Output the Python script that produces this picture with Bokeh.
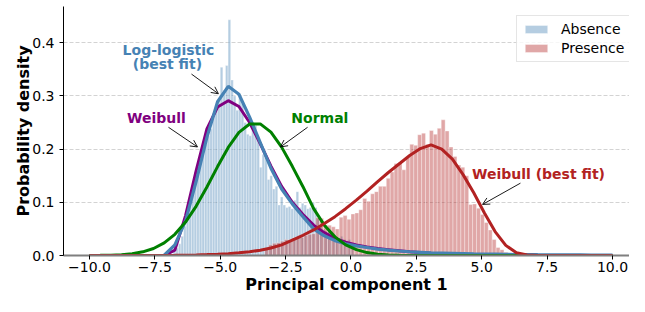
import numpy as np
from bokeh.plotting import figure
from bokeh.models import (Range1d, FixedTicker, Label, Arrow, OpenHead, Legend,
                          LegendItem, CustomJSTickFormatter, ColumnDataSource)
from bokeh.embed import file_html
from bokeh.resources import INLINE

# ---------------- data ----------------
# Absence histogram (density), bins of width 0.1 starting at -6.9
absence_start = -6.9
absence_width = 0.1
absence_density = [
    0.003, 0.008, 0.014, 0.022, 0.036, 0.055, 0.083, 0.110, 0.130, 0.157,
    0.150, 0.173, 0.190, 0.209, 0.225, 0.238, 0.260, 0.273, 0.291, 0.354,
    0.310, 0.357, 0.443, 0.330, 0.300, 0.273, 0.298, 0.286, 0.250, 0.228,
    0.225, 0.250, 0.245, 0.220, 0.166, 0.190, 0.185, 0.143, 0.150, 0.125,
    0.130, 0.095, 0.110, 0.095, 0.090, 0.092, 0.088, 0.104, 0.120, 0.090,
    0.098, 0.095, 0.088, 0.090, 0.100, 0.090, 0.070, 0.055, 0.050, 0.045,
    0.046, 0.040, 0.038, 0.035, 0.033, 0.036, 0.030, 0.028, 0.030, 0.022,
]

# Presence histogram (density), bins of width 0.15 starting at -3.3
presence_start = -3.3
presence_width = 0.15
presence_density = [
    0.012, 0.020, 0.023, 0.024, 0.027, 0.030, 0.029, 0.033, 0.035, 0.034,
    0.038, 0.040, 0.041, 0.071, 0.070, 0.058, 0.057, 0.054, 0.050, 0.072,
    0.075, 0.068, 0.078, 0.080, 0.086, 0.107, 0.102, 0.116, 0.120, 0.130,
    0.130, 0.145, 0.157, 0.173, 0.175, 0.161, 0.184, 0.209, 0.207, 0.227,
    0.230, 0.209, 0.235, 0.228, 0.239, 0.255, 0.234, 0.204, 0.186, 0.170,
    0.166, 0.150, 0.096, 0.097, 0.089, 0.077, 0.062, 0.048, 0.030, 0.015,
    0.011, 0.006, 0.004, 0.002,
]

# Fitted densities evaluated on 50 points from -10 to 10
curve_x = np.linspace(-10, 10, 50)
loglogistic_abs = [
    0, 0, 0, 0, 0, 0, 0, 0.0005, 0.020, 0.065,
    0.140, 0.222, 0.289, 0.318, 0.303, 0.260, 0.212, 0.164, 0.125, 0.097,
    0.073, 0.050, 0.037, 0.028, 0.022, 0.018, 0.015, 0.012, 0.010, 0.0085,
    0.007, 0.006, 0.005, 0.0045, 0.004, 0.0035, 0.003, 0.0027, 0.0024, 0.0021,
    0.0019, 0.0017, 0.0015, 0.0014, 0.0012, 0.0011, 0.0010, 0.0009, 0.0009, 0.0008,
]
weibull_abs = [
    0, 0, 0, 0, 0, 0, 0, 0, 0.010, 0.075,
    0.160, 0.238, 0.279, 0.291, 0.280, 0.250, 0.210, 0.168, 0.130, 0.100,
    0.077, 0.057, 0.043, 0.032, 0.025, 0.020, 0.016, 0.013, 0.011, 0.009,
    0.007, 0.0055, 0.0043, 0.0033, 0.0025, 0.0019, 0.0014, 0.0010, 0.0007, 0.0005,
    0.0003, 0.0002, 0.0001, 0.0001, 0.0001, 0.0001, 0.0001, 0.0001, 0.0001, 0.0001,
]
normal_abs = [
    0.0001, 0.0003, 0.0007, 0.0015, 0.0034, 0.0069, 0.0132, 0.0236, 0.0398, 0.0628,
    0.0929, 0.1287, 0.1671, 0.2031, 0.2315, 0.2472, 0.2473, 0.2318, 0.2037, 0.1676,
    0.1293, 0.0880, 0.0570, 0.0350, 0.0200, 0.0110, 0.0055, 0.0025, 0.0010, 0.0004,
    0.0001, 0, 0, 0, 0, 0, 0, 0, 0, 0,
    0, 0, 0, 0, 0, 0, 0, 0, 0, 0,
]
weibull_pres = [
    0, 0, 0, 0, 0, 0, 0.0001, 0.0002, 0.0004, 0.0007,
    0.0011, 0.0017, 0.0025, 0.0035, 0.005, 0.007, 0.010, 0.014, 0.020, 0.029,
    0.038, 0.048, 0.060, 0.073, 0.088, 0.104, 0.121, 0.139, 0.156, 0.172,
    0.188, 0.201, 0.208, 0.200, 0.181, 0.152, 0.118, 0.080, 0.045, 0.019,
    0.005, 0.0008, 0, 0, 0, 0, 0, 0, 0, 0,
]

x_ticks = [-10, -7.5, -5, -2.5, 0, 2.5, 5, 7.5, 10]
y_ticks = [0.0, 0.1, 0.2, 0.3, 0.4]

FONT = "DejaVu Sans"

# ---------------- figure ----------------
p = figure(width=629, height=296, x_range=Range1d(-10.994, 10.65), y_range=Range1d(0, 0.468),
           output_backend="svg", toolbar_location=None,
           min_border_left=63, min_border_right=0, min_border_top=6, min_border_bottom=0)
p.outline_line_color = None
p.background_fill_color = "white"
p.border_fill_color = "white"

p.xgrid.visible = False
p.ygrid.ticker = FixedTicker(ticks=[0.1, 0.2, 0.3, 0.4])
p.ygrid.grid_line_color = "#c8c8c8"
p.ygrid.grid_line_dash = "4 2"
p.ygrid.grid_line_width = 0.8

fmt = CustomJSTickFormatter(code="return tick.toFixed(1).replace('-', '\u2212');")

xa = p.xaxis[0]
xa.ticker = FixedTicker(ticks=x_ticks)
xa.formatter = fmt
xa.axis_line_color = "#7f7f7f"
xa.axis_line_width = 2
xa.major_tick_line_color = "black"
xa.major_tick_out = 4
xa.major_tick_in = 0
xa.minor_tick_line_color = None
xa.major_label_text_font = FONT
xa.major_label_text_font_size = "14px"
xa.major_label_text_color = "black"
xa.major_label_standoff = 2
xa.axis_label = "Principal component 1"
xa.axis_label_text_font = FONT
xa.axis_label_text_font_size = "16px"
xa.axis_label_text_font_style = "bold"
xa.axis_label_text_color = "black"
xa.axis_label_standoff = 0

ya = p.yaxis[0]
ya.ticker = FixedTicker(ticks=y_ticks)
ya.formatter = fmt
ya.axis_line_color = "black"
ya.axis_line_width = 1
ya.major_tick_line_color = "black"
ya.major_tick_out = 4
ya.major_tick_in = 0
ya.minor_tick_line_color = None
ya.major_label_text_font = FONT
ya.major_label_text_font_size = "14px"
ya.major_label_text_color = "black"
ya.major_label_standoff = 5
ya.axis_label = "Probability density"
ya.axis_label_text_font = FONT
ya.axis_label_text_font_size = "16px"
ya.axis_label_text_font_style = "bold"
ya.axis_label_text_color = "black"
ya.axis_label_standoff = -4

# ---------------- histograms ----------------
a_left = absence_start + absence_width * np.arange(len(absence_density))
abs_src = ColumnDataSource(dict(left=a_left, right=a_left + absence_width,
                                top=absence_density, bottom=[0] * len(absence_density)))
r_abs = p.quad(left="left", right="right", top="top", bottom="bottom", source=abs_src,
               fill_color="#4682B4", fill_alpha=0.4, line_color="white", line_width=0.6,
               line_alpha=0.6)

p_left = presence_start + presence_width * np.arange(len(presence_density))
pres_src = ColumnDataSource(dict(left=p_left, right=p_left + presence_width,
                                 top=presence_density, bottom=[0] * len(presence_density)))
r_pres = p.quad(left="left", right="right", top="top", bottom="bottom", source=pres_src,
                fill_color="#B22222", fill_alpha=0.4, line_color="white", line_width=0.6,
                line_alpha=0.6)

# ---------------- fitted curves ----------------
p.line(curve_x, weibull_abs, line_color="#800080", line_width=3)
p.line(curve_x, loglogistic_abs, line_color="#4682B4", line_width=3.2)
p.line(curve_x, normal_abs, line_color="#008000", line_width=3)
p.line(curve_x, weibull_pres, line_color="#B22222", line_width=3)

# ---------------- annotations ----------------
def note(x, y, text, color):
    p.add_layout(Label(x=x, y=y, text=text, text_color=color, text_font=FONT,
                       text_font_size="14px", text_font_style="bold",
                       text_align="center", text_baseline="middle"))

def arrow(x0, y0, x1, y1):
    p.add_layout(Arrow(end=OpenHead(size=7, line_width=0.9, line_color="black"),
                       x_start=x0, y_start=y0, x_end=x1, y_end=y1,
                       line_width=0.9, line_color="black"))

note(-6.98, 0.386, "Log-logistic", "#4682B4")
note(-7.02, 0.359, "(best fit)", "#4682B4")
arrow(-6.10, 0.341, -5.07, 0.304)

note(-7.44, 0.259, "Weibull", "#800080")
arrow(-6.98, 0.241, -5.87, 0.204)

note(-1.19, 0.259, "Normal", "#008000")
arrow(-1.66, 0.241, -2.70, 0.204)

note(7.17, 0.154, "Weibull (best fit)", "#B22222")
arrow(6.48, 0.136, 5.03, 0.096)

# ---------------- legend ----------------
legend = Legend(items=[LegendItem(label="Absence", renderers=[r_abs]),
                       LegendItem(label="Presence", renderers=[r_pres])],
                location=(453, 193), padding=5, spacing=3,
                glyph_width=28, glyph_height=10, label_standoff=11,
                label_text_font=FONT, label_text_font_size="14px",
                label_text_color="black", label_height=14,
                border_line_color="#cccccc", border_line_width=1,
                background_fill_color="white", background_fill_alpha=0.8)
p.add_layout(legend)

open("out.html", "w").write(file_html(p, INLINE))
